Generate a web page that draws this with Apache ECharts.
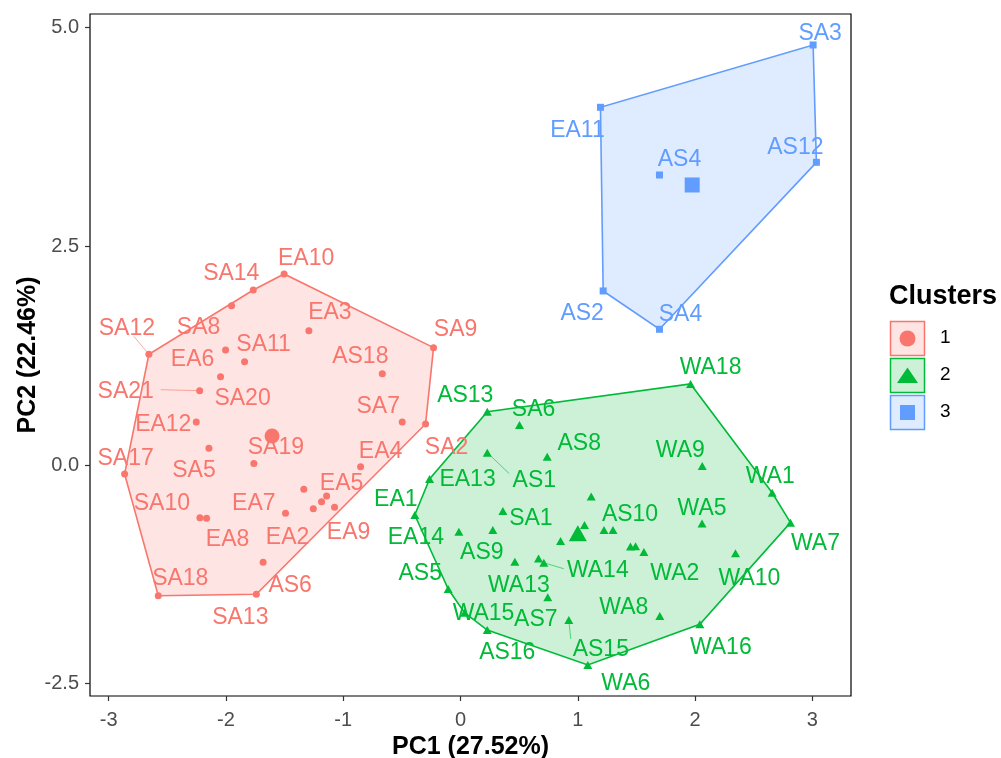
<!DOCTYPE html>
<html>
<head>
<meta charset="utf-8">
<script src="https://cdn.jsdelivr.net/npm/echarts@6/dist/echarts.min.js"></script>
<style>
html,body{margin:0;padding:0;background:#fff;}
#chart{width:1001px;height:758px;}
</style>
</head>
<body>
<div id="chart"></div>
<script>
// ---------- DATA ----------
const c1Names = ["EA10","SA14","SA8","EA3","SA12","EA6","SA11","SA20","SA9","AS18","SA21","SA7","SA2","EA12","SA5","SA19","SA17","EA4","EA7","EA5","","","EA9","EA2","SA10","EA8","AS6","SA18","SA13"];
const c1X = [-1.504,-1.767,-1.952,-1.293,-2.657,-2.003,-1.841,-2.046,-0.230,-0.667,-2.224,-0.497,-0.298,-2.253,-2.145,-1.762,-2.864,-0.852,-1.336,-1.142,-1.185,-1.255,-1.074,-1.492,-2.222,-2.165,-1.683,-2.577,-1.741];
const c1Y = [2.183,2.000,1.821,1.535,1.265,1.314,1.181,1.009,1.341,1.043,0.849,0.491,0.469,0.491,0.191,0.017,-0.103,-0.019,-0.278,-0.354,-0.419,-0.499,-0.483,-0.552,-0.602,-0.609,-1.112,-1.494,-1.478];

const c2Names = ["WA18","AS13","SA6","AS1","AS8","WA9","EA13","WA1","","SA1","EA1","WA5","WA7","","","AS10","EA14","AS9","","","","WA2","WA13","","WA14","WA10","AS5","AS7","WA15","AS15","WA8","WA16","AS16","WA6"];
const c2X = [1.961,0.228,0.503,0.228,0.739,2.061,-0.264,2.657,1.114,0.361,-0.390,2.059,2.813,1.057,1.223,1.300,-0.014,0.275,0.853,1.449,1.492,1.563,0.463,0.665,0.710,2.344,-0.105,0.744,0.034,0.923,1.699,2.040,0.228,1.085];
const c2Y = [0.926,0.609,0.457,0.141,0.095,-0.011,-0.160,-0.317,-0.360,-0.526,-0.571,-0.669,-0.659,-0.686,-0.743,-0.743,-0.762,-0.743,-0.869,-0.931,-0.928,-0.994,-1.105,-1.069,-1.117,-1.009,-1.417,-1.512,-1.688,-1.771,-1.726,-1.821,-1.886,-2.286];

const c3Names = ["SA3","EA11","AS12","AS4","AS2","SA4"];
const c3X = [3.006,1.193,3.034,1.696,1.216,1.696];
const c3Y = [4.800,4.088,3.459,3.314,1.989,1.551];

const centroidX = [-1.607, 1.000, 1.975];
const centroidY = [0.331, -0.781, 3.200];

const clusterNames = ["1","2","3"];
const xTicks = [-3,-2,-1,0,1,2,3];
const yTicks = [-2.5,0,2.5,5];
const xTitle = "PC1 (27.52%)";
const yTitle = "PC2 (22.46%)";
const legendTitle = "Clusters";

// ---------- LABEL LAYOUT (pixel offsets, styling only) ----------
const labelOffset = {
  EA10:[22,-17], SA14:[-22,-18], SA8:[-33,20], EA3:[21,-20], SA12:[-22,-28], EA6:[-33,8], SA11:[19,-19],
  SA20:[22,20], SA9:[22,-20], AS18:[-22,-19], SA21:[-74,-1], SA7:[-24,-17], SA2:[21,22], EA12:[-33,1],
  SA5:[-15,20], SA19:[22,-18], SA17:[1,-17], EA4:[20,-17], EA7:[-50,12], EA5:[15,-14], EA9:[14,23],
  EA2:[2,22], SA10:[-38,-16], EA8:[21,19], AS6:[27,21], SA18:[22,-19], SA13:[-16,21],
  WA18:[20,-18], AS13:[-22,-18], SA6:[14,-17], AS8:[32,-15], AS1:[47,26], EA13:[38,-1], EA1:[-19,-17],
  SA1:[28,6], WA9:[-22,-17], WA1:[-2,-18], AS10:[17,-17], WA5:[0,-17], WA7:[25,19], EA14:[-43,4],
  AS9:[-11,21], WA14:[54,6], WA2:[31,20], WA10:[14,23], AS5:[-28,-17], WA13:[4,22], WA8:[-36,-10],
  WA15:[19,-1], AS7:[-12,20], WA16:[21,21], AS15:[32,28], AS16:[20,21], WA6:[38,17],
  SA3:[7,-13], EA11:[-23,21], AS12:[-21,-17], AS4:[20,-17], AS2:[-21,21], SA4:[21,-17]
};
const labelBaselineShift = 2;
const leaderEnd = { SA12:[-15,-18], SA21:[-39,-1], AS1:[22,21], WA14:[20,6], AS15:[2,19] };

const colors = ['#F8766D','#00BA38','#619CFF'];
const fills = ['rgba(248,118,109,0.2)','rgba(0,186,56,0.2)','rgba(97,156,255,0.2)'];
const FONT = "'Liberation Sans', Arial, Helvetica, sans-serif";

const clusters = [
  {names:c1Names, xs:c1X, ys:c1Y, symbol:'circle', size:7, csize:15},
  {names:c2Names, xs:c2X, ys:c2Y, symbol:'triangle', size:[9,8], csize:[18,16]},
  {names:c3Names, xs:c3X, ys:c3Y, symbol:'rect', size:7, csize:15}
];

function hull(pts){
  const p = pts.slice().sort((a,b)=>a[0]-b[0]||a[1]-b[1]);
  const cross=(o,a,b)=>(a[0]-o[0])*(b[1]-o[1])-(a[1]-o[1])*(b[0]-o[0]);
  const lower=[];for(const q of p){while(lower.length>=2&&cross(lower[lower.length-2],lower[lower.length-1],q)<=0)lower.pop();lower.push(q);}
  const upper=[];for(let i=p.length-1;i>=0;i--){const q=p[i];while(upper.length>=2&&cross(upper[upper.length-2],upper[upper.length-1],q)<=0)upper.pop();upper.push(q);}
  upper.pop();lower.pop();return lower.concat(upper);
}

const series = [];
clusters.forEach((c,ci)=>{
  const pts = c.xs.map((x,i)=>[x,c.ys[i]]);
  const h = hull(pts);
  series.push({
    type:'custom', coordinateSystem:'cartesian2d', silent:true, z:1,
    data:[h[0]],
    renderItem:(params,api)=>({
      type:'polygon',
      shape:{points:h.map(p=>api.coord(p))},
      style:{fill:fills[ci], stroke:colors[ci], lineWidth:1.6}
    })
  });
  const leaders = [];
  c.names.forEach((n,i)=>{ if(leaderEnd[n]) leaders.push([c.xs[i],c.ys[i],leaderEnd[n][0],leaderEnd[n][1]]); });
  if(leaders.length){
    series.push({
      type:'custom', coordinateSystem:'cartesian2d', silent:true, z:2,
      data:leaders,
      renderItem:(params,api)=>{
        const p = api.coord([api.value(0),api.value(1)]);
        return {type:'line', shape:{x1:p[0],y1:p[1],x2:p[0]+api.value(2),y2:p[1]+api.value(3)},
                style:{stroke:colors[ci], lineWidth:0.6}};
      }
    });
  }
  series.push({
    type:'scatter', z:3, silent:true,
    symbol:c.symbol, symbolSize:c.size,
    itemStyle:{color:colors[ci], opacity:1},
    label:{show:true, position:'inside', formatter:'{b}', color:colors[ci], fontSize:23, fontFamily:FONT},
    data:pts.map((p,i)=>{
      const o = labelOffset[c.names[i]]||[0,0];
      return {
        name:c.names[i], value:p,
        label:{show:c.names[i]!=='', offset:[o[0], o[1]+labelBaselineShift]}
      };
    })
  });
  series.push({
    type:'scatter', z:4, silent:true,
    symbol:c.symbol, symbolSize:c.csize,
    itemStyle:{color:colors[ci], opacity:1},
    data:[[centroidX[ci],centroidY[ci]]]
  });
});

// legend graphics
const legendG = [{
  type:'text', left:889, top:283,
  style:{text:legendTitle, font:"bold 27px "+FONT, fill:'#000'}
}];
const legTops=[321,358,395];
legTops.forEach((t,i)=>{
  legendG.push({type:'rect', shape:{x:890.5,y:t+0.5,width:34,height:34},
    style:{fill:fills[i], stroke:colors[i], lineWidth:1.5}});
  const cy=t+17.5;
  if(i===0) legendG.push({type:'circle', shape:{cx:907.5,cy:cy,r:8}, style:{fill:colors[i]}});
  if(i===1) legendG.push({type:'polygon', shape:{points:[[897,cy+7.5],[918,cy+7.5],[907.5,cy-8]]}, style:{fill:colors[i]}});
  if(i===2) legendG.push({type:'rect', shape:{x:900,y:cy-7.5,width:15,height:15}, style:{fill:colors[i]}});
  legendG.push({type:'text', left:940, top:cy-10, style:{text:clusterNames[i], font:"19px "+FONT, fill:'#000'}});
});

const chart = echarts.init(document.getElementById('chart'), null, {renderer:'canvas'});
chart.setOption({
  animation:false,
  backgroundColor:'#fff',
  grid:{left:90, right:150, top:14, bottom:62, show:true, borderColor:'#000', borderWidth:1.2,
        containLabel:false, outerBoundsMode:'none'},
  xAxis:{
    type:'value', min:-3.159, max:3.329,
    axisLine:{show:false, onZero:false},
    splitLine:{show:false},
    axisTick:{show:true, customValues:xTicks, length:5, lineStyle:{color:'#333', width:1.2}},
    axisLabel:{customValues:xTicks, formatter:v=>String(v), color:'#4D4D4D', fontSize:20, fontFamily:FONT, margin:14},
    name:xTitle, nameLocation:'middle', nameGap:37,
    nameTextStyle:{fontSize:25, fontWeight:'bold', color:'#000', fontFamily:FONT}
  },
  yAxis:{
    type:'value', min:-2.64, max:5.154,
    axisLine:{show:false, onZero:false},
    splitLine:{show:false},
    axisTick:{show:true, customValues:yTicks, length:5, lineStyle:{color:'#333', width:1.2}},
    axisLabel:{customValues:yTicks, formatter:v=>v.toFixed(1), color:'#4D4D4D', fontSize:20, fontFamily:FONT, margin:11},
    name:yTitle, nameLocation:'middle', nameGap:49, nameRotate:90, nameMoveOverlap:false,
    nameTextStyle:{fontSize:25, fontWeight:'bold', color:'#000', fontFamily:FONT}
  },
  graphic:legendG,
  series:series
});
</script>
</body>
</html>
